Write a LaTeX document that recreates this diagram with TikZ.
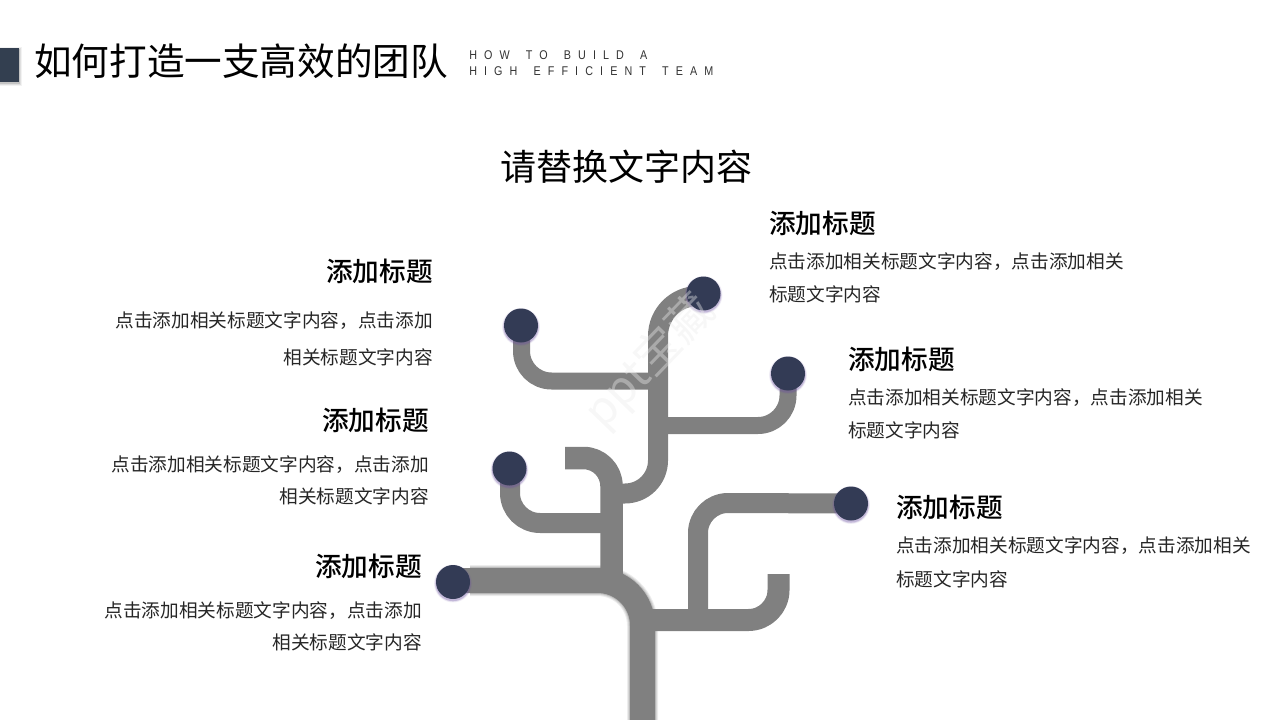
\documentclass[tikz,border=0pt]{standalone}
\usepackage{fontspec}
\usetikzlibrary{calc}
\setmainfont{Noto Sans CJK SC}
\newfontfamily\latinsub[LetterSpace=56,FakeStretch=0.85,WordSpace=1.6]{Liberation Sans}
\newfontfamily\headfont[UprightFont=* Medium]{Noto Sans CJK SC}
\newfontfamily\titlefont{Noto Sans CJK SC}
\definecolor{limb}{HTML}{808080}
\definecolor{bud}{HTML}{333B55}
\definecolor{budglow}{HTML}{6A4FA0}
\definecolor{markc}{HTML}{333F50}
\tikzset{
  limb/.style={draw=limb,line cap=butt,line join=round},
  budnode/.style={circle,fill=bud,minimum size=34*0.75pt,inner sep=0pt},
  headtext/.style={font=\headfont\fontsize{20}{24}\selectfont,inner sep=0pt},
  bodyl/.style={font=\fontsize{14}{17}\selectfont,inner sep=0pt,anchor=east,text=black!85},
  bodyr/.style={font=\fontsize{14}{17}\selectfont,inner sep=0pt,anchor=west,text=black!85},
}
\begin{document}
\begin{tikzpicture}[x=0.75pt,y=-0.75pt]
\useasboundingbox (0,0) rectangle (1280,720);
% header mark
\foreach \w/\o in {5/0.05,3/0.08,1/0.12}{
  \fill[black,opacity=\o] (0,{50-\w/2}) rectangle ({19.5+\w/2},{83.5+\w/2});
}
\fill[markc] (0,48) rectangle (19,82);
\node[anchor=west,inner sep=0pt,font=\titlefont\fontsize{28.2}{34}\selectfont] (title) at (34,61) {如何打造一支高效的团队};
\node[anchor=west,inner sep=0pt,font=\latinsub\fontsize{9.5}{11.5}\selectfont,text=black!80] (subA) at (469,55.5) {HOW TO BUILD A};
\node[anchor=west,inner sep=0pt,font=\latinsub\fontsize{9.5}{11.5}\selectfont,text=black!80] (subB) at (469,71) {HIGH EFFICIENT TEAM};
\node[inner sep=0pt,font=\titlefont\fontsize{27}{32}\selectfont] (main) at (626,166.5) {请替换文字内容};
\coordinate (b1) at (703.5,293.5);
\coordinate (b2) at (521,325.5);
\coordinate (b3) at (788,373.5);
\coordinate (b4) at (509.5,468.5);
\coordinate (b5) at (851,503.5);
\coordinate (b6) at (453,582);
% trunk shadow
\foreach \w/\o in {6/0.07,4/0.09,2/0.12}{
  \draw[black,opacity=\o,line width=(25+\w)*0.75pt] (470,580.5) -- (597.5,580.5) arc[start angle=-90,end angle=0,radius=45] -- (642.5,720);
}
% limbs
\draw[limb,line width=25*0.75pt] (b6) -- (453,580.5) -- (597.5,580.5) arc[start angle=-90,end angle=0,radius=45] -- (642.5,720);
\draw[limb,line width=22*0.75pt] (645,620) -- (748.5,620) arc[start angle=90,end angle=0,radius=30] -- (778.5,574);
\draw[limb,line width=20*0.75pt] (698,620) -- (698,533) arc[start angle=180,end angle=270,radius=30] -- (b5);
\draw[limb,line width=22.5*0.75pt] (611.5,582) -- (611.5,486) arc[start angle=0,end angle=-90,radius=28] -- (565,458);
\draw[limb,line width=20*0.75pt] (510,468.5) -- (510,493) arc[start angle=180,end angle=90,radius=30] -- (605,523);
\draw[limb,line width=20*0.75pt] (605,493.5) -- (625,493.5) arc[start angle=90,end angle=0,radius=33] -- (658,336) arc[start angle=180,end angle=270,radius=40] -- (b1);
\draw[limb,line width=17*0.75pt] (521.5,325.5) -- (521.5,351) arc[start angle=180,end angle=90,radius=30] -- (658,381);
\draw[limb,line width=17*0.75pt] (658,425.5) -- (758,425.5) arc[start angle=90,end angle=0,radius=30] -- (b3);
% buds
\foreach \n in {b1,b2,b3,b4,b5,b6}{
  \foreach \r/\o in {19/0.08,18.3/0.14,17.6/0.25}{
    \fill[budglow,opacity=\o] ($(\n)+(0,1.5)$) circle[radius=\r*0.75pt];
  }
}
\node[budnode] (n1) at (b1) {};
\node[budnode] (n2) at (b2) {};
\node[budnode] (n3) at (b3) {};
\node[budnode] (n4) at (b4) {};
\node[budnode] (n5) at (b5) {};
\node[budnode] (n6) at (b6) {};
% watermark
\node[rotate=46,font=\fontsize{34}{40}\selectfont,text=black!8,opacity=.4,inner sep=0pt] (wm) at (650,362) {ppt宝藏};
% right texts
\node[headtext,anchor=west] (rh1) at (769,223) {添加标题};
\node[bodyr] (rt1a) at (769,262) {点击添加相关标题文字内容，点击添加相关};
\node[bodyr] (rt1b) at (769,294.5) {标题文字内容};
\node[headtext,anchor=west] (rh2) at (848,359) {添加标题};
\node[bodyr] (rt2a) at (848,398) {点击添加相关标题文字内容，点击添加相关};
\node[bodyr] (rt2b) at (848,430.5) {标题文字内容};
\node[headtext,anchor=west] (rh3) at (896,507) {添加标题};
\node[bodyr] (rt3a) at (896,546) {点击添加相关标题文字内容，点击添加相关};
\node[bodyr] (rt3b) at (896,579.5) {标题文字内容};
% left texts
\node[headtext,anchor=east] (lh1) at (433,271) {添加标题};
\node[bodyl] (lt1a) at (433,321) {点击添加相关标题文字内容，点击添加};
\node[bodyl] (lt1b) at (433,357.5) {相关标题文字内容};
\node[headtext,anchor=east] (lh2) at (429,420) {添加标题};
\node[bodyl] (lt2a) at (429,465) {点击添加相关标题文字内容，点击添加};
\node[bodyl] (lt2b) at (429,496.5) {相关标题文字内容};
\node[headtext,anchor=east] (lh3) at (422,566) {添加标题};
\node[bodyl] (lt3a) at (422,611) {点击添加相关标题文字内容，点击添加};
\node[bodyl] (lt3b) at (422,642.5) {相关标题文字内容};
\end{tikzpicture}
\end{document}
